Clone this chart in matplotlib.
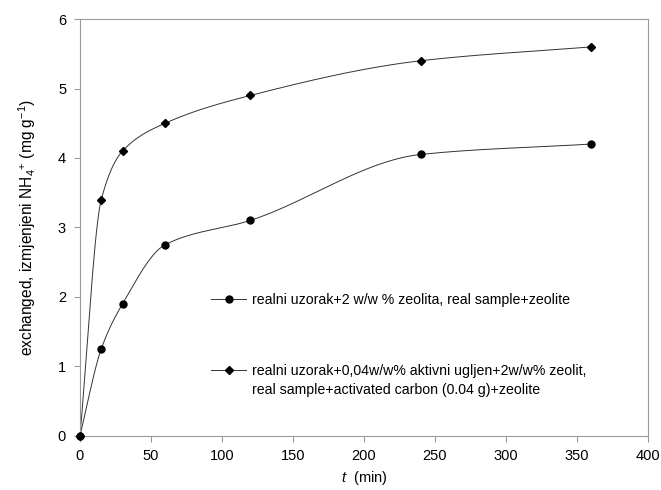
import matplotlib.pyplot as plt
from matplotlib.lines import Line2D
import numpy as np

plt.rcParams['font.family'] = ['Liberation Sans', 'DejaVu Sans']
plt.rcParams['mathtext.fontset'] = 'custom'
plt.rcParams['mathtext.rm'] = 'Liberation Sans'
plt.rcParams['mathtext.it'] = 'Liberation Sans:italic'

# Data
time_min = [0, 15, 30, 60, 120, 240, 360]
zeolite = [0, 1.25, 1.9, 2.75, 3.1, 4.05, 4.2]
carbon_zeolite = [0, 3.4, 4.1, 4.5, 4.9, 5.4, 5.6]

label_zeolite = 'realni uzorak+2 w/w % zeolita, real sample+zeolite'
label_carbon_1 = 'realni uzorak+0,04w/w% aktivni ugljen+2w/w% zeolit,'
label_carbon_2 = 'real sample+activated carbon (0.04 g)+zeolite'


def smooth(x, y, n=40):
    """Monotone cubic (PCHIP-like) curve through the points, for drawing the line."""
    x = np.asarray(x, float)
    y = np.asarray(y, float)
    h = np.diff(x)
    d = np.diff(y) / h
    m = np.zeros_like(y)
    m[0], m[-1] = d[0], d[-1]
    for k in range(1, len(x) - 1):
        if d[k - 1] * d[k] > 0:
            w1 = 2 * h[k] + h[k - 1]
            w2 = h[k] + 2 * h[k - 1]
            m[k] = (w1 + w2) / (w1 / d[k - 1] + w2 / d[k])
    xs, ys = [], []
    for k in range(len(x) - 1):
        t = np.linspace(0, 1, n)
        h00 = 2 * t**3 - 3 * t**2 + 1
        h10 = t**3 - 2 * t**2 + t
        h01 = -2 * t**3 + 3 * t**2
        h11 = t**3 - t**2
        xs.append(x[k] + t * h[k])
        ys.append(h00 * y[k] + h10 * h[k] * m[k] + h01 * y[k + 1] + h11 * h[k] * m[k + 1])
    return np.concatenate(xs), np.concatenate(ys)


fig = plt.figure(figsize=(6.61, 4.90), dpi=100)
ax = fig.add_axes([0.121, 0.111, 0.859, 0.850])

line_color = '#333333'
for y, marker, ms in [(zeolite, 'o', 5), (carbon_zeolite, 'D', 4.5)]:
    xs, ys = smooth(time_min, y)
    ax.plot(xs, ys, color=line_color, linewidth=0.7)
    ax.plot(time_min, y, linestyle='none', marker=marker, markersize=ms,
            color='black', clip_on=False, zorder=3)

ax.set_xlim(0, 400)
ax.set_ylim(0, 6)
ax.set_xticks(np.arange(0, 401, 50))
ax.set_yticks(np.arange(0, 7, 1))
for s in ax.spines.values():
    s.set_color('#999999')
    s.set_linewidth(0.8)
ax.tick_params(direction='out', length=4, color='#999999', labelsize=10.5, pad=6)

ax.set_xlabel('$t$  (min)', fontsize=10.5, labelpad=4)
ax.set_ylabel('exchanged, izmjenjeni NH$_4$$^{+}$ (mg g$^{-1}$)', fontsize=11.2, labelpad=14)

h_zeo = Line2D([], [], color=line_color, linewidth=0.7, marker='o', markersize=5,
               markerfacecolor='black', markeredgecolor='black')
h_carb = Line2D([], [], color=line_color, linewidth=0.7, marker='D', markersize=4.5,
                markerfacecolor='black', markeredgecolor='black')
h_blank = Line2D([], [], linestyle='none')

leg_kw = dict(loc='upper left', frameon=False, fontsize=10.2, handlelength=2.45,
              handletextpad=0.4, borderpad=0, borderaxespad=0)
leg1 = ax.legend([h_zeo], [label_zeolite], bbox_to_anchor=(0.2315, 0.343), **leg_kw)
ax.add_artist(leg1)
ax.legend([h_carb, h_blank], [label_carbon_1, label_carbon_2],
          bbox_to_anchor=(0.2315, 0.171), labelspacing=0.3, **leg_kw)

fig.savefig('out.png', dpi=100)
